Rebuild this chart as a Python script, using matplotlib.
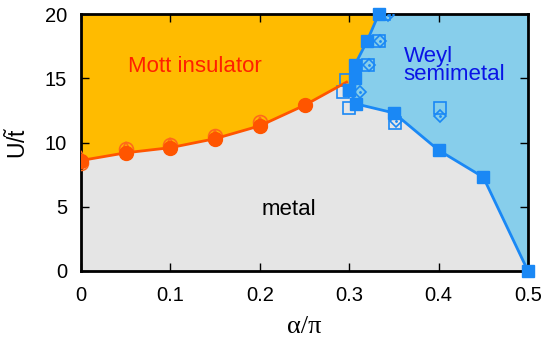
import matplotlib
matplotlib.use("Agg")
import matplotlib.pyplot as plt
import numpy as np

plt.rcParams['font.family'] = ['Liberation Sans', 'DejaVu Sans']
plt.rcParams['mathtext.fontset'] = 'custom'
plt.rcParams['mathtext.rm'] = 'Liberation Sans'
plt.rcParams['mathtext.it'] = 'Liberation Sans'

# Mott transition line (filled circles)
mott_x = [0.0, 0.05, 0.10, 0.15, 0.20, 0.25, 0.297]
mott_u = [8.6, 9.2, 9.6, 10.3, 11.3, 12.9, 14.7]
mott_marker_x = [0.0, 0.05, 0.10, 0.15, 0.20, 0.25]
mott_marker_u = [8.6, 9.2, 9.6, 10.3, 11.3, 12.9]
# open orange markers
oc_x = [0.0, 0.05, 0.10, 0.15, 0.20]
oc_u = [8.4, 9.5, 9.8, 10.5, 11.6]
ot_x = [0.0, 0.05, 0.10, 0.15, 0.20]
ot_u = [8.9, 9.6, 9.9, 10.5, 11.5]

# Weyl boundary (filled squares), upper branch then lower branch
weyl_up_x = [0.333, 0.320, 0.306, 0.306, 0.300]
weyl_up_u = [20.0, 17.9, 16.0, 15.0, 14.1]
weyl_lo_x = [0.300, 0.308, 0.350, 0.400, 0.450, 0.500]
weyl_lo_u = [14.1, 13.0, 12.3, 9.4, 7.3, 0.0]

# open blue markers
os_x = [0.296, 0.293, 0.300, 0.321, 0.333, 0.339, 0.351, 0.402]
os_u = [14.9, 13.9, 12.7, 16.0, 17.9, 20.0, 11.5, 12.7]
od_x = [0.312, 0.322, 0.334, 0.343, 0.352, 0.402]
od_u = [13.9, 16.0, 17.9, 19.9, 11.7, 12.1]

orange_fill = '#FFBB00'
blue_fill = '#87CEEB'
gray_fill = '#E5E5E5'
line_orange = '#FF5500'
line_blue = '#1A88F5'

fig = plt.figure(figsize=(5.48, 3.39), dpi=100)
ax = fig.add_axes([0.148, 0.2006, 0.8155, 0.758])
ax.set_facecolor(gray_fill)

# Mott region polygon
poly_x = list(mott_x) + list(weyl_up_x[::-1]) + [0.0]
poly_u = list(mott_u) + list(weyl_up_u[::-1]) + [20.0]
ax.fill(poly_x, poly_u, color=orange_fill, lw=0, zorder=0)
# Weyl region polygon
wx = list(weyl_up_x) + list(weyl_lo_x[1:]) + [0.5]
wu = list(weyl_up_u) + list(weyl_lo_u[1:]) + [20.0]
ax.fill(wx, wu, color=blue_fill, lw=0, zorder=0)

# open markers
ax.plot(oc_x, oc_u, 'o', mfc='none', mec='#FF6A1A', ms=10, mew=1.2, zorder=3)
ax.plot(ot_x, ot_u, '^', mfc='none', mec='#FF6A1A', ms=8, mew=1.2, zorder=3)
ax.plot(os_x, os_u, 's', mfc='none', mec=line_blue, ms=8.5, mew=1.2, zorder=3)
ax.plot(od_x, od_u, 'D', mfc='none', mec=line_blue, ms=6, mew=1.2, zorder=3)
ax.plot(od_x, od_u, '.', color=line_blue, ms=2, zorder=3)

# lines
ax.plot(mott_x, mott_u, '-', color=line_orange, lw=2, zorder=4)
ax.plot(mott_marker_x, mott_marker_u, 'o', color=line_orange, ms=10, zorder=4)
ax.plot(weyl_up_x, weyl_up_u, '-', color=line_blue, lw=2, zorder=4)
ax.plot(weyl_lo_x, weyl_lo_u, '-', color=line_blue, lw=2, zorder=4)
ax.plot(weyl_up_x + weyl_lo_x, weyl_up_u + weyl_lo_u, 's', color=line_blue,
        ms=9, zorder=5, clip_on=False)

ax.text(0.127, 15.9, 'Mott insulator', color='#FF2000', fontsize=16,
        ha='center', va='center')
ax.text(0.361, 16.0, 'Weyl\nsemimetal', color='#0A14E6', fontsize=16,
        ha='left', va='center', linespacing=0.85)
ax.text(0.233, 4.8, 'metal', color='black', fontsize=16, ha='center', va='center')

ax.set_xlim(0, 0.5)
ax.set_ylim(0, 20)
ax.set_xticks([0, 0.1, 0.2, 0.3, 0.4, 0.5])
ax.set_xticklabels(['0', '0.1', '0.2', '0.3', '0.4', '0.5'])
ax.set_yticks([0, 5, 10, 15, 20])
ax.tick_params(direction='in', top=True, right=True, labelsize=14.5, length=6,
               width=1)
ax.tick_params(axis='x', pad=11)
ax.tick_params(axis='y', pad=10)
for s in ax.spines.values():
    s.set_linewidth(2)
ax.set_xlabel('α/π', fontsize=19, family='Liberation Serif', labelpad=8)
ax.set_ylabel(r'U/$\tilde{\mathrm{t}}$', fontsize=16.5, labelpad=10)

fig.savefig('out.png', dpi=100)
